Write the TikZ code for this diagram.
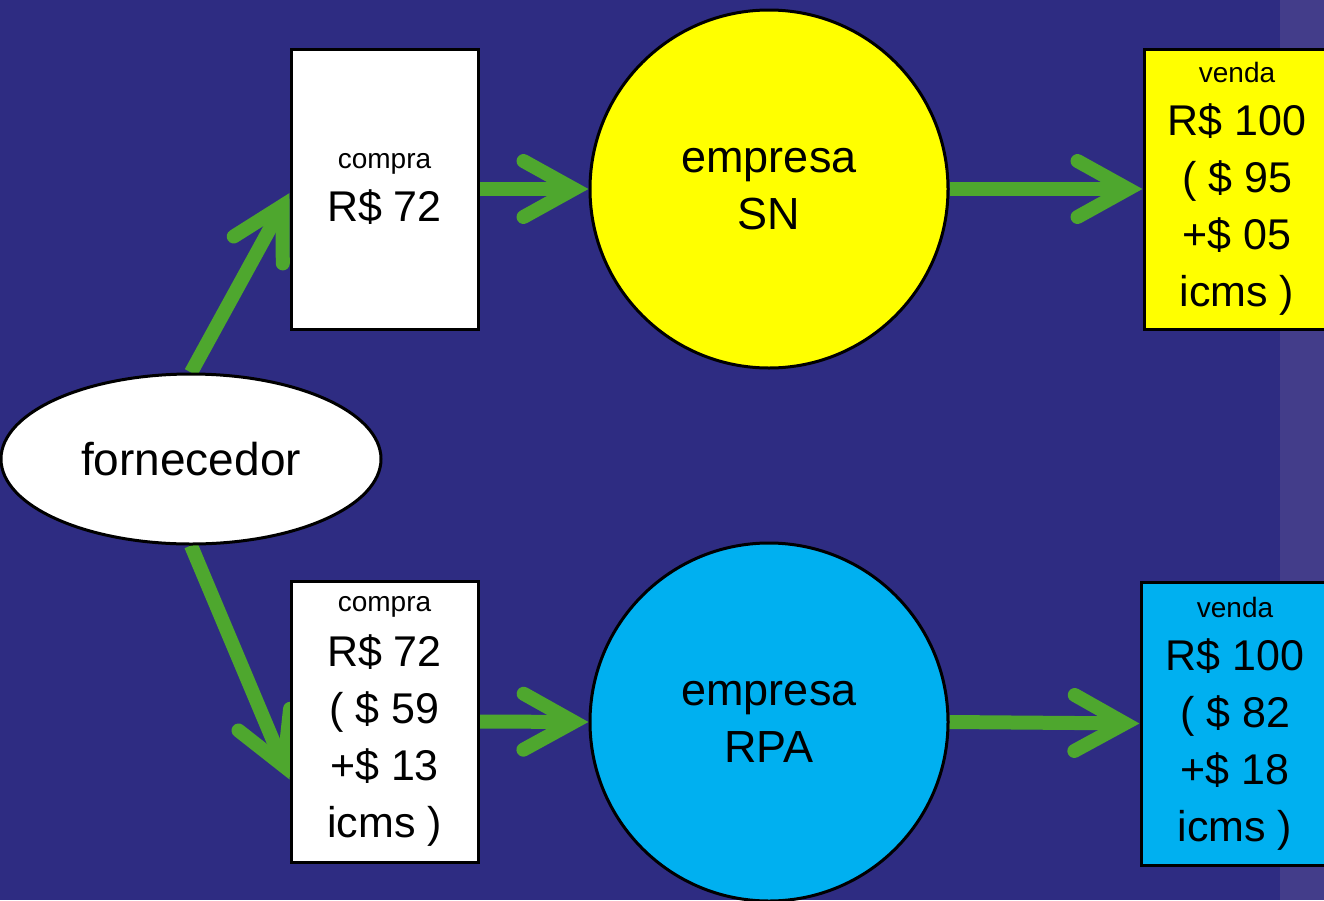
\documentclass[tikz,border=0pt]{standalone}
\usepackage{fontspec}
\setmainfont{Liberation Sans}
\usetikzlibrary{calc,shapes.geometric}
\definecolor{bgblue}{RGB}{46,44,130}
\definecolor{stripblue}{RGB}{67,61,138}
\definecolor{arrowgreen}{RGB}{78,167,46}
\definecolor{rpacyan}{RGB}{0,176,240}
\definecolor{snyellow}{RGB}{255,255,0}
\pgfdeclarelayer{backdrop}
\pgfdeclarelayer{arrowlayer}
\pgfsetlayers{backdrop,arrowlayer,main}
\newcommand\smalltxt[1]{{\fontsize{28}{32}\selectfont #1}}
\newcommand\greenarrow[2]{%
  \draw[shaft] (#1) -- ($(#2)!14.5pt!(#1)$) coordinate (v);
  \draw[barb] ($(v)!57.7pt!29:(#1)$) -- (v) -- ($(v)!57.7pt!-29:(#1)$);
}
\begin{document}
\begin{tikzpicture}[x=1pt,y=-1pt,
  shapebox/.style={draw=black,line width=3pt,inner sep=0pt,align=center,
    font=\fontsize{43}{57}\selectfont},
  rectbox/.style={shapebox,rectangle},
  roundbox/.style={shapebox,circle,minimum size=358pt,font=\fontsize{45}{57}\selectfont},
  shaft/.style={draw=arrowgreen,line width=14pt,line cap=butt},
  barb/.style={draw=arrowgreen,line width=14pt,line cap=round,line join=miter,miter limit=10}]
\useasboundingbox (0,0) rectangle (1324,900);
\begin{pgfonlayer}{backdrop}
\fill[bgblue] (0,0) rectangle (1324,900);
\fill[stripblue] (1280,0) rectangle (1324,900);
\end{pgfonlayer}

\node[shapebox,ellipse,fill=white,minimum width=380pt,minimum height=170pt,
  font=\fontsize{46}{57}\selectfont] (forn) at (191,459) {fornecedor};

\node[rectbox,fill=white,minimum width=187pt,minimum height=280pt] (cp1) at (384.5,189)
  {\smalltxt{compra}\\[-4pt]R\$ 72};
\node[roundbox,fill=snyellow] (sn) at (769,189) {empresa\\SN};
\node[rectbox,fill=snyellow,minimum width=186pt,minimum height=280pt] (vd1) at (1237,189)
  {\smalltxt{venda}\\[-4pt]R\$ 100\\( \$ 95\\+\$ 05\\icms )};

\node[rectbox,fill=white,minimum width=187pt,minimum height=281pt] (cp2) at (384.5,721.5)
  {\smalltxt{compra}\\[-2pt]R\$ 72\\( \$ 59\\+\$ 13\\icms )};
\node[roundbox,fill=rpacyan] (rpa) at (769,722) {empresa\\RPA};
\node[rectbox,fill=rpacyan,minimum width=188pt,minimum height=283pt] (vd2) at (1235,723.5)
  {\smalltxt{venda}\\[-4pt]R\$ 100\\( \$ 82\\+\$ 18\\icms )};

\coordinate (t1) at ($(cp1.west)+(0,4)$);
\coordinate (t2) at ($(cp2.west)+(0,58)$);

\begin{pgfonlayer}{arrowlayer}
\greenarrow{cp1.east}{sn.west}
\greenarrow{sn.east}{vd1.west}
\greenarrow{cp2.east}{rpa.west}
\greenarrow{rpa.east}{vd2.west}
\greenarrow{forn.north}{t1}
\greenarrow{forn.south}{t2}
\end{pgfonlayer}
\end{tikzpicture}
\end{document}
